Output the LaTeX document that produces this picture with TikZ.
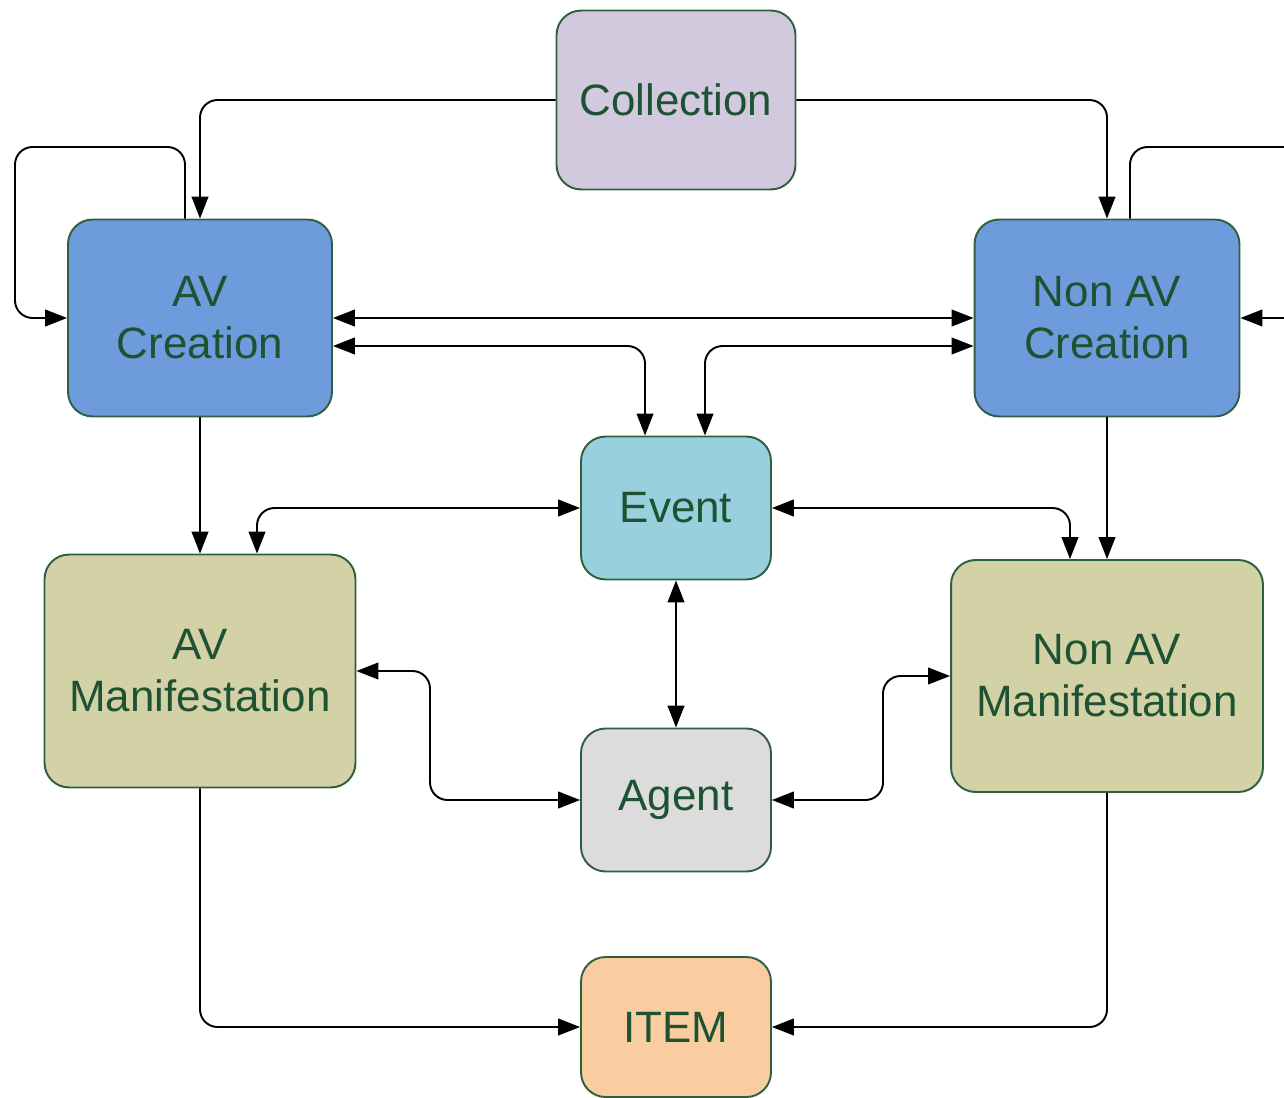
\documentclass[tikz,border=0pt]{standalone}
\usepackage{fontspec}
\setmainfont{Liberation Sans}
\usetikzlibrary{arrows.meta,calc}
\definecolor{bordergreen}{HTML}{2F5F3E}
\definecolor{textgreen}{HTML}{1E5233}
\definecolor{collfill}{HTML}{D2C9DF}
\definecolor{creafill}{HTML}{6D9BDB}
\definecolor{eventfill}{HTML}{98D0DE}
\definecolor{maniffill}{HTML}{D2D2A6}
\definecolor{agentfill}{HTML}{DCDCDC}
\definecolor{itemfill}{HTML}{F9CDA0}
\tikzset{
  box/.style={rectangle, rounded corners=14pt, draw=bordergreen, line width=1.1pt,
    text=textgreen, align=center, inner sep=0pt,
    font=\fontsize{25}{29.5}\selectfont},
  conn/.style={draw=black, line width=1.1pt, rounded corners=10pt,
    -{Triangle[length=12.5pt,width=9.5pt]}},
  bconn/.style={draw=black, line width=1.1pt, rounded corners=10pt,
    {Triangle[length=12.5pt,width=9.5pt]}-{Triangle[length=12.5pt,width=9.5pt]}}
}
\begin{document}
\begin{tikzpicture}[x={(0.02cm,0)}, y={(0,-0.02cm)}]
\useasboundingbox (0,0) rectangle (1284,1098);
\node[box, fill=collfill, minimum width=4.78cm, minimum height=3.58cm] (coll) at (676,100) {Collection};
\node[box, fill=creafill, minimum width=5.28cm, minimum height=3.94cm] (avc) at (200,318) {AV\\Creation};
\node[box, fill=creafill, minimum width=5.30cm, minimum height=3.94cm] (navc) at (1107,318) {Non AV\\Creation};
\node[box, fill=eventfill, minimum width=3.8cm, minimum height=2.86cm] (ev) at (676,508) {Event};
\node[box, fill=maniffill, minimum width=6.22cm, minimum height=4.66cm] (avm) at (200,671) {AV\\Manifestation};
\node[box, fill=maniffill, minimum width=6.24cm, minimum height=4.64cm] (navm) at (1107,676) {Non AV\\Manifestation};
\node[box, fill=agentfill, minimum width=3.8cm, minimum height=2.86cm] (ag) at (676,800) {Agent};
\node[box, fill=itemfill, minimum width=3.8cm, minimum height=2.8cm] (item) at (676,1027) {ITEM};

% Collection to creations
\draw[conn] (coll.west) -| (avc.north);
\draw[conn] (coll.east) -| (navc.north);
% self loops
\draw[conn] ([xshift=-0.3cm]avc.north) |- (15,147) |- (avc.west);
\draw[conn] ([xshift=0.46cm]navc.north) |- (1310,147) |- (navc.east);
% creation <-> creation
\draw[bconn] (avc.east) -- (navc.west);
% creations <-> event
\draw[bconn] ([yshift=-0.56cm]avc.east) -| ([xshift=-0.62cm]ev.north);
\draw[bconn] ([yshift=-0.56cm]navc.west) -| ([xshift=0.58cm]ev.north);
% creation -> manifestation
\draw[conn] (avc.south) -- (avm.north);
\draw[conn] (navc.south) -- (navm.north);
% event <-> manifestations
\draw[bconn] (ev.west) -| ([xshift=1.14cm]avm.north);
\draw[bconn] (ev.east) -| ([xshift=-0.74cm]navm.north);
% event <-> agent
\draw[bconn] (ev.south) -- (ag.north);
% agent <-> manifestations
\draw[bconn] (ag.west) -| (430,740) |- (avm.east);
\draw[bconn] (ag.east) -| (883,740) |- (navm.west);
% manifestations -> item
\draw[conn] (avm.south) |- (item.west);
\draw[conn] (navm.south) |- (item.east);
\end{tikzpicture}
\end{document}
